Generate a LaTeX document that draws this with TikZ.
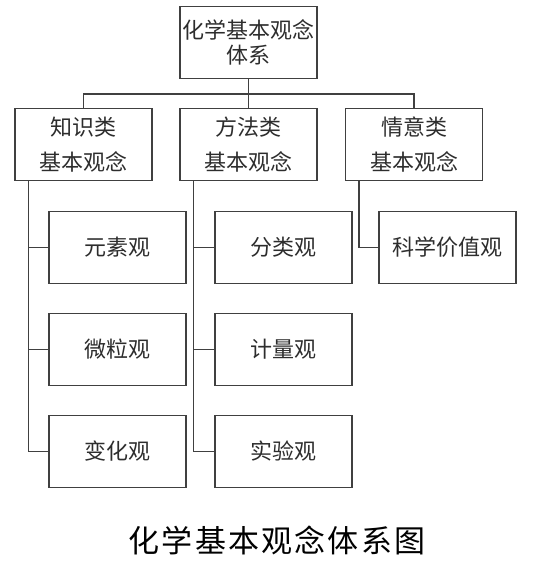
\documentclass[tikz,border=0pt]{standalone}
\usepackage{fontspec}
\newfontfamily\cjk{Noto Sans CJK SC}
\newfontfamily\cjkcap[LetterSpace=7]{Noto Sans CJK SC}
\definecolor{cline}{RGB}{64,64,64}
\definecolor{ctext}{RGB}{45,45,45}
\tikzset{
  concept/.style={draw=cline,line width=1.5pt,minimum width=137pt,minimum height=72pt,
    inner sep=0pt,align=center,text=ctext,font=\cjk\fontsize{22}{25}\selectfont},
  category/.style={concept,font=\cjk\fontsize{22}{35}\selectfont},
  link/.style={draw=cline,line width=1.5pt},
}

\begin{document}
\begin{tikzpicture}[x=1pt,y=-1pt]
    \useasboundingbox (0,0) rectangle (555,566);
    \node[concept] (root) at (248.5,42.5) {化学基本观念\\体系};
    \node[category] (know) at (83.5,144.5) {知识类\\基本观念};
    \node[category] (method) at (248.5,144.5) {方法类\\基本观念};
    \node[category] (emo) at (414,144.5) {情意类\\基本观念};
    \node[concept] (yuan) at (117.5,247.5) {元素观};
    \node[concept] (wei) at (117.5,349.5) {微粒观};
    \node[concept] (bian) at (117.5,451.5) {变化观};
    \node[concept] (fen) at (283.5,247.5) {分类观};
    \node[concept] (ji) at (283.5,349.5) {计量观};
    \node[concept] (shi) at (283.5,451.5) {实验观};
    \node[concept] (ke) at (447.5,247.5) {科学价值观};
    \coordinate (bus) at (248.5,94);
    \coordinate (kspine) at ([xshift=14pt]know.south west);
    \coordinate (mspine) at ([xshift=14pt]method.south west);
    \coordinate (espine) at ([xshift=14pt]emo.south west);
    \draw[link] (root) -- (method);
    \draw[link] (know.north) |- (bus) -| (emo.north);
    \draw[link] (kspine) |- (bian);
    \draw[link] (yuan) -- (yuan -| kspine);
    \draw[link] (wei) -- (wei -| kspine);
    \draw[link] (mspine) |- (shi);
    \draw[link] (fen) -- (fen -| mspine);
    \draw[link] (ji) -- (ji -| mspine);
    \draw[link] (espine) |- (ke);
    \node[font=\cjkcap\fontsize{31}{31}\selectfont] (caption) at (277,540) {化学基本观念体系图};
\end{tikzpicture}
\end{document}
